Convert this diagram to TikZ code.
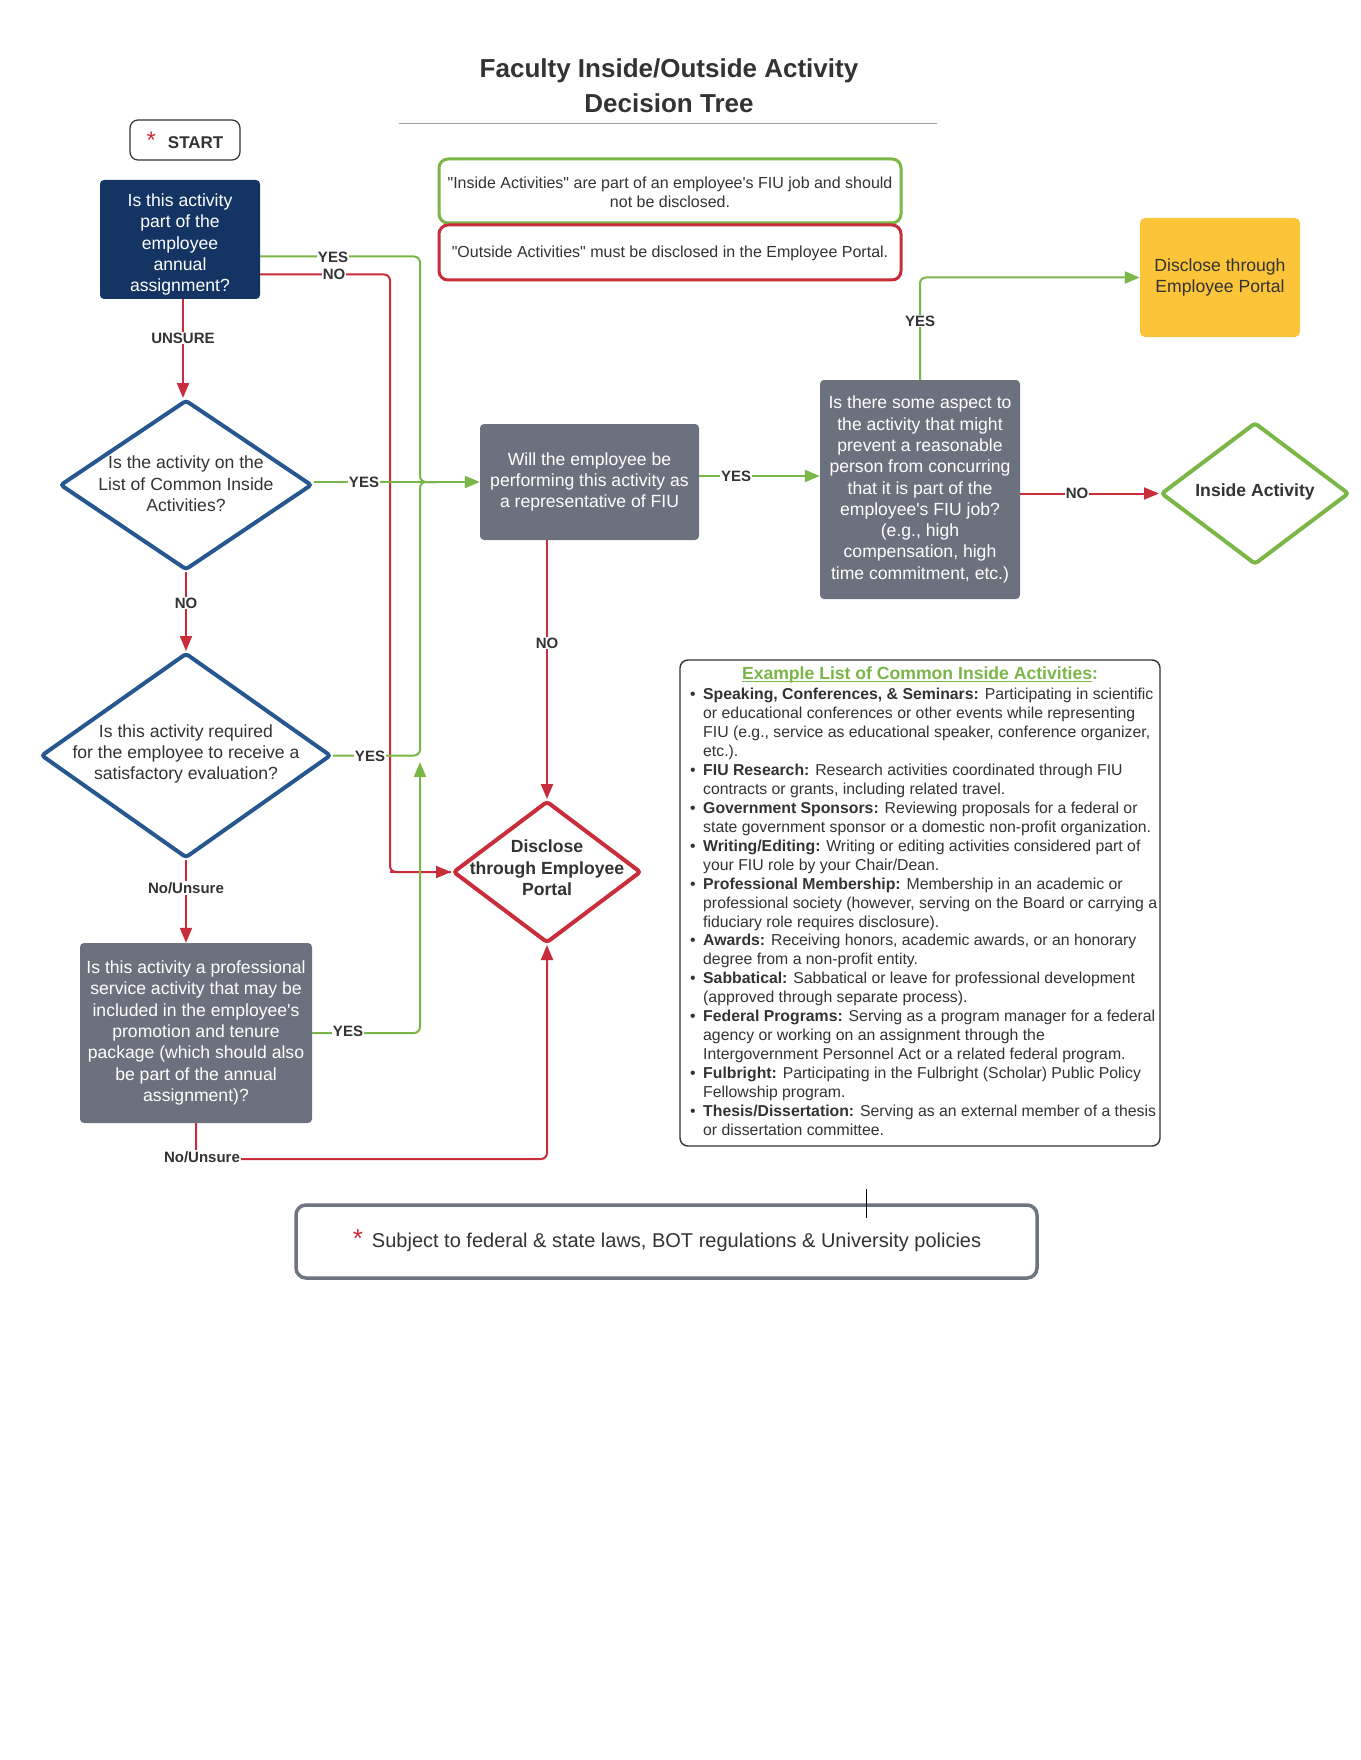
\documentclass[tikz,border=0pt]{standalone}
\usepackage{fontspec}
\setmainfont{Liberation Sans}[Ligatures=TeXOff]
\usetikzlibrary{shapes.geometric, arrows.meta}
\definecolor{navy}{HTML}{143563}
\definecolor{boxgray}{HTML}{6C727D}
\definecolor{lgreen}{HTML}{7AB648}
\definecolor{lred}{HTML}{C92D39}
\definecolor{dblue}{HTML}{27578F}
\definecolor{lyellow}{HTML}{FCC438}
\definecolor{txt}{HTML}{333333}
\definecolor{fgray}{HTML}{6E7480}
\definecolor{rulegray}{HTML}{A0A0A0}
\newcommand\myul[1]{\setbox0\hbox{#1}\rlap{\rule[-2.6pt]{\wd0}{1.4pt}}\box0}
\tikzset{
 qbox/.style={rectangle, rounded corners=4pt, inner sep=0pt, align=center, text=white, font=\fontsize{17.6}{21.3}\selectfont, fill=boxgray},
 ddiam/.style={diamond, draw, line width=4pt, rounded corners=3pt, inner sep=0pt, fill=white},
 dtxt/.style={align=center, inner sep=0pt, font=\fontsize{17.6}{21.3}\selectfont},
 infobox/.style={rectangle, draw, line width=3pt, rounded corners=9pt, inner sep=0pt, minimum width=462pt, fill=white},
 infotxt/.style={align=center, inner sep=0pt, font=\fontsize{16}{19.3}\selectfont},
 lbl/.style={fill=white, inner sep=1pt, font=\bfseries\fontsize{15}{18}\selectfont},
 gline/.style={draw=lgreen, line width=2pt, rounded corners=6pt},
 rline/.style={draw=lred, line width=2pt, rounded corners=6pt},
 arrowhd/.style={-{Triangle[length=15pt,width=12pt]}},
 litem/.style={anchor=base west, inner sep=0pt, font=\fontsize{15.8}{19}\selectfont},
 bul/.style={anchor=base, inner sep=0pt, font=\fontsize{15.8}{19}\selectfont},
}
\begin{document}
\begin{tikzpicture}[x=1pt,y=-1pt, every node/.style={text=txt}]
\fill[white] (0,0) rectangle (1360,1760);
\useasboundingbox (0,0) rectangle (1360,1760);

% title
\node[anchor=base, inner sep=0pt, font=\bfseries\fontsize{26}{31}\selectfont] (t1) at (669,78) {Faculty Inside/Outside Activity};
\node[anchor=base, inner sep=0pt, font=\bfseries\fontsize{26}{31}\selectfont] (t2) at (669,112.5) {Decision Tree};
\coordinate (r1) at (399,123.5);
\coordinate (r2) at (937,123.5);
\draw[rulegray, line width=1.5pt] (r1) -- (r2);

% start
\node[draw=txt, line width=1.2pt, rounded corners=8pt, minimum width=110pt, minimum height=40pt, inner sep=0pt] (start) at (185,140)
  {\textcolor{lred}{\fontsize{24}{24}\selectfont *}\hspace{12pt}{\bfseries\fontsize{17}{20}\selectfont START}};

% info boxes
\node[infobox, draw=lgreen, minimum height=64pt] (inside) at (670,191) {};
\node[infotxt] (insidet) at (670,192.5) {"Inside Activities" are part of an employee's FIU job and should\\not be disclosed.};
\node[infobox, draw=lred, minimum height=55pt] (outside) at (670,252.5) {};
\node[infotxt] (outsidet) at (670,253.5) {"Outside Activities" must be disclosed in the Employee Portal.};

% question boxes
\node[qbox, fill=navy, minimum width=160pt, minimum height=119pt] (q1) at (180,239.5) {};
\node[dtxt, text=white] (q1t) at (180,244.5) {Is this activity\\part of the\\employee\\annual\\assignment?};
\node[qbox, minimum width=219pt, minimum height=116pt] (q4) at (589.5,482) {Will the employee be\\performing this activity as\\a representative of FIU};
\node[qbox, minimum width=200pt, minimum height=219pt] (q5) at (920,489.5) {Is there some aspect to\\the activity that might\\prevent a reasonable\\person from concurring\\that it is part of the\\employee's FIU job?\\(e.g., high\\compensation, high\\time commitment, etc.)};
\node[qbox, minimum width=232pt, minimum height=180pt] (q6) at (196,1033) {Is this activity a professional\\service activity that may be\\included in the employee's\\promotion and tenure\\package (which should also\\be part of the annual\\assignment)?};
\node[rectangle, rounded corners=5pt, fill=lyellow, minimum width=160pt, minimum height=119pt, inner sep=0pt, align=center, font=\fontsize{17.6}{21.3}\selectfont] (yb) at (1220,277.5) {Disclose through\\Employee Portal};

% diamonds
\node[ddiam, draw=dblue, minimum width=252pt, minimum height=170pt] (d1) at (186,485) {};
\node[dtxt] (d1t) at (186,484) {Is the activity on the\\List of Common Inside\\Activities?};
\node[ddiam, draw=dblue, minimum width=290pt, minimum height=205pt] (d2) at (186,755.5) {};
\node[dtxt] (d2t) at (186,754) {Is this activity required\\for the employee to receive a\\satisfactory evaluation?};
\node[ddiam, draw=lred, minimum width=188pt, minimum height=142pt] (rd) at (547,872) {};
\node[dtxt, font=\bfseries\fontsize{17.6}{21.3}\selectfont] (rdt) at (547,868) {Disclose\\through Employee\\Portal};
\node[ddiam, draw=lgreen, minimum width=188pt, minimum height=142pt] (ia) at (1255,493.5) {};
\node[dtxt, font=\bfseries\fontsize{17.6}{21.3}\selectfont] (iat) at (1255,492) {Inside Activity};

% helper coordinates
\coordinate (jg) at (420,482);
\coordinate (jg2) at (436,482);
\coordinate (rj) at (390,872);
\coordinate (ga) at (420,762);
\coordinate (bc) at (547,1159);
\coordinate (q4y) at ([yshift=6pt]q4.east);

% connectors
\draw[rline] ([yshift=-35pt]q1.east) -| (rj) -- (rd.west);
\draw[rline, arrowhd] (rj) -- (rd.west);
\draw[gline] ([yshift=-17pt]q1.east) -| (jg) -- (jg2);
\draw[gline] (d2.east) -| (jg) -- (jg2);
\draw[gline, arrowhd] ([yshift=3pt]d1.east) -- (q4.west);
\draw[gline, arrowhd] (q6.east) -| (ga);
\draw[rline, arrowhd] ([xshift=3pt]q1.south) -- ([xshift=3pt]q1.south |- d1.north);
\draw[rline, arrowhd] (d1.south) -- (d2.north);
\draw[rline, arrowhd] (d2.south) -- (d2.south |- q6.north);
\draw[rline, arrowhd] (q6.south) |- (bc) -- (rd.south);
\draw[rline, arrowhd] (q4.south -| rd.north) -- (rd.north);
\draw[gline, arrowhd] (q4y) -- (q4y -| q5.west);
\draw[gline, arrowhd] (q5.north) |- (yb.west);
\draw[rline, arrowhd] (q5.east |- ia.west) -- (ia.west);

% labels
\node[lbl] (lq1y) at (333,257) {YES};
\node[lbl] (lq1n) at (334,274) {NO};
\node[lbl] (lq1u) at (183,338) {UNSURE};
\node[lbl] (ld1y) at (364,482) {YES};
\node[lbl] (ld1n) at (186,603) {NO};
\node[lbl] (ld2y) at (370,756) {YES};
\node[lbl] (ld2n) at (186,888) {No/Unsure};
\node[lbl] (lq6y) at (348,1031) {YES};
\node[lbl] (lq6n) at (202,1157) {No/Unsure};
\node[lbl] (lq4n) at (547,643) {NO};
\node[lbl] (lq4y) at (736,476) {YES};
\node[lbl] (lq5y) at (920,321) {YES};
\node[lbl] (lq5n) at (1077,493) {NO};

% example list
\node[draw=txt, line width=1.4pt, rounded corners=8pt, minimum width=480pt, minimum height=486pt, inner sep=0pt] (list) at (920,903) {};
\node[anchor=base, inner sep=0pt, text=lgreen, font=\bfseries\fontsize{17.6}{21}\selectfont] (lhead) at (920,679.5) {\myul{Example List of Common Inside Activities}:};
\node[litem] (l00) at (703,699.50) {\textbf{Speaking, Conferences, \& Seminars:} Participating in scientific};
\node[litem] (l01) at (703,718.46) {or educational conferences or other events while representing};
\node[litem] (l02) at (703,737.42) {FIU (e.g., service as educational speaker, conference organizer,};
\node[litem] (l03) at (703,756.38) {etc.).};
\node[litem] (l04) at (703,775.34) {\textbf{FIU Research:} Research activities coordinated through FIU};
\node[litem] (l05) at (703,794.30) {contracts or grants, including related travel.};
\node[litem] (l06) at (703,813.26) {\textbf{Government Sponsors:} Reviewing proposals for a federal or};
\node[litem] (l07) at (703,832.22) {state government sponsor or a domestic non-profit organization.};
\node[litem] (l08) at (703,851.18) {\textbf{Writing/Editing:} Writing or editing activities considered part of};
\node[litem] (l09) at (703,870.14) {your FIU role by your Chair/Dean.};
\node[litem] (l10) at (703,889.10) {\textbf{Professional Membership:} Membership in an academic or};
\node[litem] (l11) at (703,908.06) {professional society (however, serving on the Board or carrying a};
\node[litem] (l12) at (703,927.02) {fiduciary role requires disclosure).};
\node[litem] (l13) at (703,945.98) {\textbf{Awards:} Receiving honors, academic awards, or an honorary};
\node[litem] (l14) at (703,964.94) {degree from a non-profit entity.};
\node[litem] (l15) at (703,983.90) {\textbf{Sabbatical:} Sabbatical or leave for professional development};
\node[litem] (l16) at (703,1002.86) {(approved through separate process).};
\node[litem] (l17) at (703,1021.82) {\textbf{Federal Programs:} Serving as a program manager for a federal};
\node[litem] (l18) at (703,1040.78) {agency or working on an assignment through the};
\node[litem] (l19) at (703,1059.74) {Intergovernment Personnel Act or a related federal program.};
\node[litem] (l20) at (703,1078.70) {\textbf{Fulbright:} Participating in the Fulbright (Scholar) Public Policy};
\node[litem] (l21) at (703,1097.66) {Fellowship program.};
\node[litem] (l22) at (703,1116.62) {\textbf{Thesis/Dissertation:} Serving as an external member of a thesis};
\node[litem] (l23) at (703,1135.58) {or dissertation committee.};
\node[bul] (b00) at (693,699.50) {•};
\node[bul] (b04) at (693,775.34) {•};
\node[bul] (b06) at (693,813.26) {•};
\node[bul] (b08) at (693,851.18) {•};
\node[bul] (b10) at (693,889.10) {•};
\node[bul] (b13) at (693,945.98) {•};
\node[bul] (b15) at (693,983.90) {•};
\node[bul] (b17) at (693,1021.82) {•};
\node[bul] (b20) at (693,1078.70) {•};
\node[bul] (b22) at (693,1116.62) {•};

% footer
\node[draw=fgray, line width=3.5pt, rounded corners=10pt, minimum width=741pt, minimum height=73pt, inner sep=0pt] (foot) at (666.5,1241.5) {};
\node[inner sep=0pt, font=\fontsize{20}{24}\selectfont] (ftxt) at (667,1241) {\textcolor{lred}{\fontsize{26}{26}\selectfont *}\hspace{9pt}Subject to federal \& state laws, BOT regulations \& University policies};
\coordinate (s1) at (866,1189);
\coordinate (s2) at (866,1218);
\draw[black, line width=1pt] (s1) -- (s2);
\end{tikzpicture}
\end{document}
